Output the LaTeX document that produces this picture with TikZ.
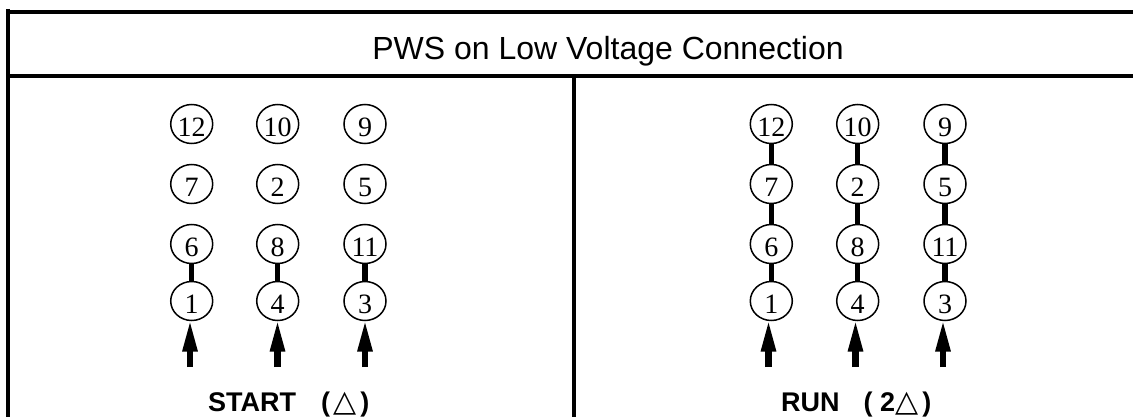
\documentclass[tikz,border=0pt]{standalone}
\usepackage{fontspec}
\setmainfont{Liberation Sans}
\newfontfamily\digitfont{Liberation Serif}
\newfontfamily\symfont{DejaVu Sans}
\usetikzlibrary{shapes.geometric,arrows.meta}
\tikzset{
  x=1pt,y=-1pt,
  frameline/.style={line width=4pt,line cap=butt},
  term/.style={ellipse,draw,line width=1.5pt,fill=white,minimum width=42pt,minimum height=39pt,inner sep=0pt,text height=25.5pt,text depth=0pt,font=\fontsize{28}{28}\digitfont},
  link/.style={line width=5.3pt},
  feed/.style={line width=6.7pt,shorten >=-2.7pt,-{Triangle[width=13.5pt,length=33pt,sep=0pt]}},
  caption/.style={anchor=base west,inner sep=0pt,font=\fontsize{27}{27}\selectfont\bfseries},
  heading/.style={anchor=base,inner sep=0pt,font=\fontsize{32}{32}\selectfont},
}
\newcommand{\tri}{{\symfont\fontsize{30}{30}\selectfont\char"25B3}}
\begin{document}
\begin{tikzpicture}
\useasboundingbox (0,0) rectangle (1133,417);
% frame
\coordinate (tl) at (8,9);
\coordinate (bl) at (8,417);
\coordinate (hl) at (6,12);
\coordinate (hr) at (1133,12);
\coordinate (ml) at (6,76);
\coordinate (mr) at (1133,76);
\coordinate (dt) at (574,76);
\coordinate (db) at (574,417);
\draw[frameline] (tl) -- (bl);
\draw[frameline] (hl) -- (hr);
\draw[frameline] (ml) -- (mr);
\draw[frameline] (dt) -- (db);
\node[heading] (title) at (608,60) {PWS on Low Voltage Connection};
% left panel terminals
\node[term] (L12) at (191.7,124) {12};
\node[term] (L10) at (277.7,124) {10};
\node[term] (L9) at (365,124) {9};
\node[term] (L7) at (191.7,184) {7};
\node[term] (L2) at (277.7,184) {2};
\node[term] (L5) at (365,184) {5};
\node[term] (L6) at (191.7,244) {6};
\node[term] (L8) at (277.7,244) {8};
\node[term] (L11) at (365,244) {11};
\node[term] (L1) at (191.7,301) {1};
\node[term] (L4) at (277.7,301) {4};
\node[term] (L3) at (365,301) {3};
% right panel terminals
\node[term] (R12) at (771.3,124) {12};
\node[term] (R10) at (857.7,124) {10};
\node[term] (R9) at (945,124) {9};
\node[term] (R7) at (771.3,184) {7};
\node[term] (R2) at (857.7,184) {2};
\node[term] (R5) at (945,184) {5};
\node[term] (R6) at (771.3,244) {6};
\node[term] (R8) at (857.7,244) {8};
\node[term] (R11) at (945,244) {11};
\node[term] (R1) at (771.3,301) {1};
\node[term] (R4) at (857.7,301) {4};
\node[term] (R3) at (945,301) {3};
% links
\draw[link] (L6) -- (L1);
\draw[link] (L8) -- (L4);
\draw[link] (L11) -- (L3);
\draw[link] (R12) -- (R7);
\draw[link] (R7) -- (R6);
\draw[link] (R6) -- (R1);
\draw[link] (R10) -- (R2);
\draw[link] (R2) -- (R8);
\draw[link] (R8) -- (R4);
\draw[link] (R9) -- (R5);
\draw[link] (R5) -- (R11);
\draw[link] (R11) -- (R3);
% feeds
\coordinate (fL1) at (190,367);
\coordinate (fL4) at (277.5,367);
\coordinate (fL3) at (365,367);
\coordinate (fR1) at (768.5,367);
\coordinate (fR4) at (855.5,367);
\coordinate (fR3) at (943,367);
\draw[feed] (fL1) -- (fL1 |- L1.south);
\draw[feed] (fL4) -- (fL4 |- L4.south);
\draw[feed] (fL3) -- (fL3 |- L3.south);
\draw[feed] (fR1) -- (fR1 |- R1.south);
\draw[feed] (fR4) -- (fR4 |- R4.south);
\draw[feed] (fR3) -- (fR3 |- R3.south);
% captions
\node[caption] (capL) at (208,411.5) {START\hspace{25pt}(\hspace{3pt}\tri\hspace{4pt})};
\node[caption] (capR) at (781,411.5) {RUN\hspace{24pt}( 2\tri\hspace{4pt})};
\end{tikzpicture}
\end{document}
